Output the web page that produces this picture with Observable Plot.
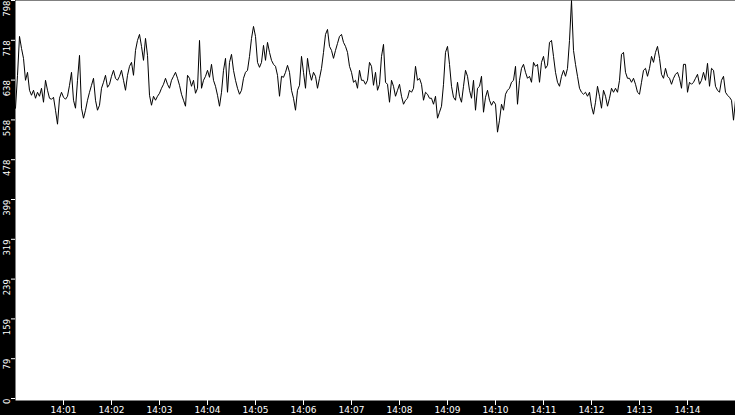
<!DOCTYPE html>
<html><head><meta charset="utf-8">
<script src="https://cdn.jsdelivr.net/npm/d3@7"></script>
<script src="https://cdn.jsdelivr.net/npm/@observablehq/plot@0.6"></script>
<style>html,body{margin:0;padding:0;background:#000;overflow:hidden}</style>
</head><body><div id="chart"></div>
<script>
const startTime = new Date(2024, 0, 1, 14, 0, 0);
const endTime = new Date(2024, 0, 1, 14, 15, 0);
const stepSeconds = 2.5;

const values = [
  582,648,726,702,682,638,654,618,608,618,602,614,606,622,594,638,618,602,600,604,578,550,602,614,604,600,606,628,654,598,582,638,688,582,562,578,598,614,628,642,598,578,588,622,634,
  648,624,630,646,658,642,638,646,658,638,618,648,666,674,648,698,718,730,706,678,722,688,608,588,606,598,606,612,622,630,642,630,622,638,646,654,642,628,610,598,586,648,642,626,638,
  612,622,718,622,638,646,658,644,670,638,626,608,586,614,658,682,614,674,690,658,638,622,610,618,642,654,658,686,722,746,726,674,664,674,708,678,714,694,678,670,666,648,606,646,644,
  654,668,654,618,602,578,618,628,686,654,622,682,654,638,654,646,622,642,662,694,730,740,706,698,682,698,712,726,730,714,706,694,666,654,634,638,622,658,638,638,630,638,674,666,628,
  654,618,630,686,710,634,630,594,638,626,606,618,630,606,590,598,602,618,614,622,666,638,642,630,598,614,610,602,602,590,606,562,574,586,630,694,706,670,626,604,598,634,606,594,626,
  658,646,618,602,638,578,622,626,646,574,604,618,598,588,596,590,534,558,590,578,610,618,622,634,638,666,590,638,662,670,654,642,646,634,674,666,670,634,674,686,662,668,714,718,686,
  654,634,626,646,658,646,662,718,798,698,670,646,622,614,610,614,606,614,586,570,594,626,606,582,618,606,586,602,622,614,622,614,638,690,694,654,642,642,634,642,630,614,610,634,658,
  662,646,662,686,674,694,706,682,650,642,662,646,642,630,642,650,654,642,622,670,670,614,634,630,634,642,650,630,638,654,638,672,626,662,658,626,618,614,638,646,614,608,604,598,558,598
];

const yTicks = [0, 79.8, 159.6, 239.4, 319.2, 399, 478.8, 558.6, 638.4, 718.2, 798];
const yTickLabels = ["0","79","159","239","319","399","478","558","638","718","798"];
const xTickMinutes = [1,2,3,4,5,6,7,8,9,10,11,12,13,14];
const xTickLabels = ["14:01","14:02","14:03","14:04","14:05","14:06","14:07","14:08","14:09","14:10","14:11","14:12","14:13","14:14"];

const series = values.map((v, i) => ({t: new Date(+startTime + i * stepSeconds * 1000), v}));
const yAxisData = yTicks.map((v, i) => ({v, label: yTickLabels[i]}));
const xTickDates = xTickMinutes.map(m => new Date(2024, 0, 1, 14, m, 0));
const xLabelOf = new Map(xTickDates.map((d, i) => [+d, xTickLabels[i]]));

const chart = Plot.plot({
  width: 735, height: 415,
  marginLeft: 15, marginRight: 0, marginTop: 0, marginBottom: 15,
  insetBottom: 2,
  style: {background: "black", color: "white", fontFamily: "DejaVu Sans", overflow: "visible"},
  x: {type: "time", domain: [startTime, endTime], label: null},
  y: {domain: [0, 798], label: null},
  marks: [
    Plot.frame({fill: "white", stroke: null}),
    Plot.line(series, {x: "t", y: "v", stroke: "black", strokeWidth: 1}),
    Plot.axisY(yTicks, {tickSize: 4, tickFormat: () => "", stroke: "white", label: null}),
    Plot.text(yAxisData, {y: "v", text: "label", frameAnchor: "left", dx: -8, rotate: -90,
      textAnchor: "end", lineAnchor: "middle", fill: "white", fontSize: 8.5}),
    Plot.axisX(xTickDates, {tickSize: 5, tickPadding: 1, tickFormat: d => xLabelOf.get(+d),
      fontSize: 9, stroke: "white", fill: "white", label: null})
  ]
});
document.getElementById("chart").appendChild(chart);
</script>
</body></html>
